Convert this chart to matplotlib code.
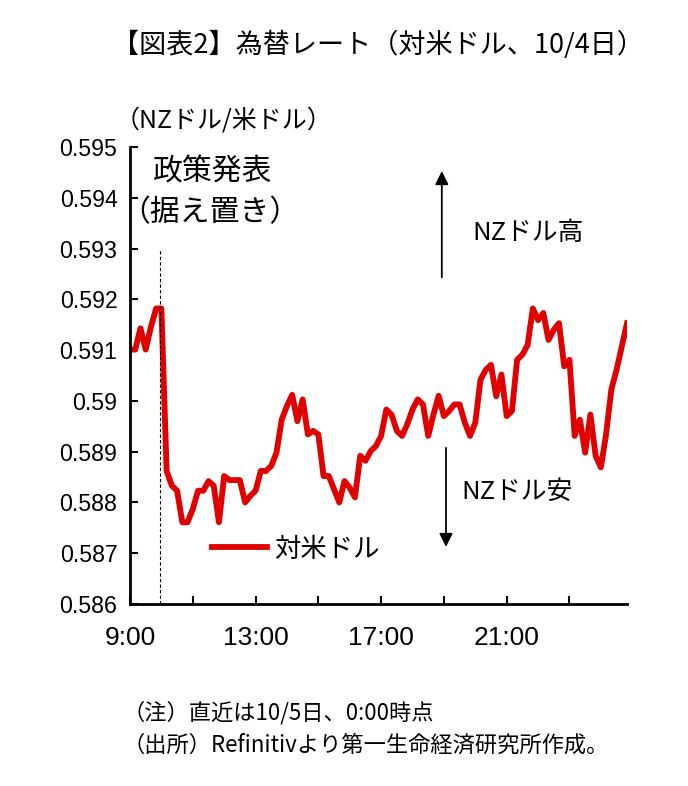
import numpy as np
import matplotlib.pyplot as plt

plt.rcParams['font.family'] = ['Noto Sans CJK JP', 'DejaVu Sans']

# NZドル/米ドル、10分足（9:00～）
rate = [
    0.59101, 0.59101, 0.59143, 0.59101, 0.59146, 0.59182, 0.59182, 0.58862,
    0.58833, 0.58823, 0.58761, 0.58761, 0.58787, 0.58823, 0.58823, 0.58842,
    0.58833, 0.58761, 0.58852, 0.58844, 0.58844, 0.58844, 0.58800, 0.58813,
    0.58823, 0.58862, 0.58862, 0.58872, 0.58898, 0.58963, 0.58990, 0.59012,
    0.58960, 0.59003, 0.58934, 0.58941, 0.58934, 0.58852, 0.58852, 0.58826,
    0.58800, 0.58842, 0.58829, 0.58810, 0.58892, 0.58882, 0.58901, 0.58911,
    0.58931, 0.58983, 0.58973, 0.58941, 0.58931, 0.58954, 0.58983, 0.59003,
    0.58993, 0.58931, 0.58973, 0.59010, 0.58970, 0.58980, 0.58993, 0.58993,
    0.58957, 0.58931, 0.58957, 0.59042, 0.59061, 0.59071, 0.59009, 0.59052,
    0.58970, 0.58980, 0.59081, 0.59091, 0.59110, 0.59182, 0.59159, 0.59173,
    0.59120, 0.59140, 0.59153, 0.59068, 0.59081, 0.58931, 0.58963, 0.58898,
    0.58973, 0.58892, 0.58869, 0.58934, 0.59022, 0.59061, 0.59107, 0.59153,
]
tick_labels = ['9:00', '', '13:00', '', '17:00', '', '21:00', '']
yticks = [0.586, 0.587, 0.588, 0.589, 0.59, 0.591, 0.592, 0.593, 0.594, 0.595]

x = np.arange(len(rate))

fig = plt.figure(figsize=(6.88, 7.86), dpi=100)
ax = fig.add_axes([130 / 688, 182 / 786, 497 / 688, 457 / 786])

ax.plot(x, rate, color='#e00000', lw=4.2, solid_joinstyle='round', label='対米ドル')

# 政策発表のタイミング
ax.plot([5.8, 5.8], [0.586, 0.5930], color='black', lw=0.8, ls=(0, (3, 2)))

ax.set_xlim(0, len(rate) - 1)
ax.set_ylim(0.586, 0.595)
ax.set_xticks(np.arange(0, len(rate), 12))
ax.set_xticklabels(tick_labels, family='Liberation Sans', fontsize=19)
ax.set_yticks(yticks)
ax.set_yticklabels([f'{v:g}' for v in yticks], family='Liberation Sans', fontsize=16.7)
ax.tick_params(direction='in', length=6, width=1.5)
ax.tick_params(axis='y', pad=9)
ax.tick_params(axis='x', pad=16)
for s in ['top', 'right']:
    ax.spines[s].set_visible(False)
for s in ['left', 'bottom']:
    ax.spines[s].set_linewidth(2)

# 矢印と注釈
ax.annotate('', xy=(59.6, 0.59458), xytext=(59.6, 0.59238),
            arrowprops=dict(arrowstyle='-|>', color='black', lw=1.3, mutation_scale=20))
ax.annotate('', xy=(60.4, 0.58707), xytext=(60.4, 0.58913),
            arrowprops=dict(arrowstyle='-|>', color='black', lw=1.3, mutation_scale=20))
ax.text(65.5, 0.5933, 'NZドル高', fontsize=18.5, va='center')
ax.text(63.3, 0.5882, 'NZドル安', fontsize=18.5, va='center')
ax.text(15.6, 0.5945, '政策発表', fontsize=21.5, ha='center', va='center')
ax.text(15.3, 0.5937, '（据え置き）', fontsize=21.5, ha='center', va='center')

ax.legend(loc='center left', bbox_to_anchor=(0.165, 0.12), borderaxespad=0, borderpad=0,
          frameon=False, fontsize=19, handlelength=2.1, handletextpad=0.27)

fig.text(378 / 688, 1 - 45 / 786, '【図表2】為替レート（対米ドル、10/4日）',
         fontsize=19.5, ha='center', va='center')
fig.text(115 / 688, 1 - 120 / 786, '（NZドル/米ドル）', fontsize=18, ha='left', va='center')
fig.text(122 / 688, 1 - 713 / 786, '（注）直近は10/5日、0:00時点', fontsize=16, ha='left', va='center')
fig.text(122 / 688, 1 - 745 / 786, '（出所）Refinitivより第一生命経済研究所作成。', fontsize=16,
         ha='left', va='center')

fig.savefig('out.png', dpi=100)
